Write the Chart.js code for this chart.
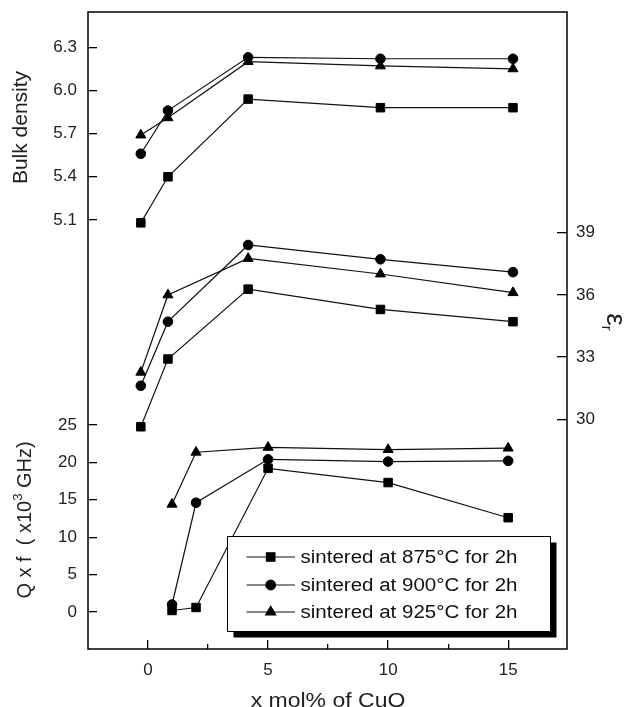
<!DOCTYPE html>
<html>
<head>
<meta charset="utf-8">
<script src="https://cdn.jsdelivr.net/npm/chart.js@4.4.0/dist/chart.umd.min.js"></script>
<style>
  html, body { margin: 0; padding: 0; background: #fff; }
</style>
</head>
<body>
<canvas id="myChart" width="624" height="707"></canvas>
<script>
// x positions (mol% CuO) as they sit in the two upper panels and in the Q x f panel
var xTop = [-0.3, 0.83, 4.17, 9.68, 15.2];
var xQf = [1, 2, 5, 10, 15];

var legendLabels = ['sintered at 875°C for 2h', 'sintered at 900°C for 2h', 'sintered at 925°C for 2h'];
var markers = ['rect', 'circle', 'triangle'];
var markerSize = [6, 4.8, 5.8];

// bulk density
var density875 = [5.08, 5.40, 5.94, 5.88, 5.88];
var density900 = [5.56, 5.86, 6.23, 6.22, 6.22];
var density925 = [5.69, 5.81, 6.20, 6.17, 6.15];

// dielectric constant
var er875 = [29.64, 32.91, 36.28, 35.30, 34.71];
var er900 = [31.62, 34.71, 38.41, 37.72, 37.10];
var er925 = [32.27, 36.00, 37.76, 37.01, 36.11];

// Q x f (x10^3 GHz)
var qf875 = [0.2, 0.6, 19.2, 17.3, 12.6];
var qf900 = [1.0, 14.6, 20.4, 20.1, 20.2];
var qf925 = [14.4, 21.35, 22.0, 21.7, 21.9];

var densityTicks = [5.1, 5.4, 5.7, 6.0, 6.3];
var erTicks = [30, 33, 36, 39];
var qfTicks = [0, 5, 10, 15, 20, 25];
var xTicks = [0, 5, 10, 15];
var xMinorTicks = [2.5, 7.5, 12.5];

var FONT = "'Liberation Sans', Arial, sans-serif";

function pts(xs, ys) {
  return xs.map(function (x, i) { return { x: x, y: ys[i] }; });
}

function series(label, xs, ys, axis, k) {
  return {
    label: label,
    data: pts(xs, ys),
    xAxisID: 'x',
    yAxisID: axis,
    borderColor: '#111',
    backgroundColor: '#000',
    borderWidth: 1.2,
    pointStyle: markers[k],
    pointRadius: markerSize[k],
    pointBorderWidth: 1,
    pointBorderColor: '#000',
    pointBackgroundColor: '#000',
    tension: 0,
    fill: false
  };
}

function setTicks(list) {
  return function (scale) {
    scale.ticks = list.map(function (v) { return { value: v }; });
  };
}

function fixSize(w, h) {
  return function (scale) {
    if (w !== null) scale.width = w;
    if (h !== null) scale.height = h;
    scale.paddingTop = 0; scale.paddingBottom = 0;
    scale.paddingLeft = 0; scale.paddingRight = 0;
  };
}

function tickGrid(len) {
  return { display: true, drawOnChartArea: false, drawTicks: true, tickLength: len, color: '#000', lineWidth: 1.3 };
}

var tickFont = { family: FONT, size: 17 };

function drawText(ctx, parts, x, y, rot, sx) {
  ctx.save();
  ctx.translate(x, y);
  ctx.rotate(rot);
  ctx.scale(sx || 1, 1);
  ctx.textBaseline = 'alphabetic';
  ctx.textAlign = 'left';
  var total = 0;
  parts.forEach(function (p) { ctx.font = p[1] + 'px ' + FONT; total += ctx.measureText(p[0]).width; });
  var cx = -total / 2;
  parts.forEach(function (p) {
    ctx.font = p[1] + 'px ' + FONT;
    ctx.fillText(p[0], cx, p[2]);
    cx += ctx.measureText(p[0]).width;
  });
  ctx.restore();
}

var paperPlugin = {
  id: 'paper',
  afterDatasetsDraw: function (chart) {
    var ctx = chart.ctx, a = chart.chartArea;
    ctx.save();
    // frame
    ctx.strokeStyle = '#000';
    ctx.lineWidth = 1.5;
    ctx.strokeRect(a.left, a.top, a.right - a.left, a.bottom - a.top);

    // legend with drop shadow
    var bx = 227.5, by = 536.5, bw = 323, bh = 95;
    ctx.fillStyle = '#000';
    ctx.fillRect(bx + 6, by + 6, bw, bh);
    ctx.fillStyle = '#fff';
    ctx.fillRect(bx, by, bw, bh);
    ctx.lineWidth = 1;
    ctx.strokeRect(bx, by, bw, bh);
    var rows = [557, 585, 612];
    legendLabels.forEach(function (lab, i) {
      var y = rows[i];
      ctx.strokeStyle = '#111';
      ctx.lineWidth = 1.2;
      ctx.beginPath();
      ctx.moveTo(246.5, y);
      ctx.lineTo(295, y);
      ctx.stroke();
      ctx.fillStyle = '#000';
      ctx.strokeStyle = '#000';
      Chart.helpers.drawPoint(ctx, { pointStyle: markers[i], rotation: 0, radius: markerSize[i], borderWidth: 1 }, 270.7, y);
      ctx.save();
      ctx.translate(300.5, y);
      ctx.scale(1.14, 1);
      ctx.font = '18px ' + FONT;
      ctx.fillStyle = '#111';
      ctx.textBaseline = 'middle';
      ctx.textAlign = 'left';
      ctx.fillText(lab, 0, 1);
      ctx.restore();
    });

    // axis titles
    ctx.fillStyle = '#222';
    drawText(ctx, [['Bulk density', 21, 0]], 27, 127.5, -Math.PI / 2);
    drawText(ctx, [['Q x f  ( x10', 20, 0], ['3', 13, -9], [' GHz)', 20, 0]], 31, 520, -Math.PI / 2);
    drawText(ctx, [['ε', 28, 0], ['r', 15, 5]], 607, 322, Math.PI / 2);
    drawText(ctx, [['x mol% of CuO', 20, 0]], 328, 707, 0, 1.15);
    ctx.restore();
  }
};

var ctx = document.getElementById('myChart');
new Chart(ctx, {
  type: 'line',
  data: {
    datasets: [
      series(legendLabels[0], xTop, density875, 'yBD', 0),
      series(legendLabels[1], xTop, density900, 'yBD', 1),
      series(legendLabels[2], xTop, density925, 'yBD', 2),
      series(legendLabels[0], xTop, er875, 'yE', 0),
      series(legendLabels[1], xTop, er900, 'yE', 1),
      series(legendLabels[2], xTop, er925, 'yE', 2),
      series(legendLabels[0], xQf, qf875, 'yQ', 0),
      series(legendLabels[1], xQf, qf900, 'yQ', 1),
      series(legendLabels[2], xQf, qf925, 'yQ', 2)
    ]
  },
  options: {
    responsive: false,
    animation: false,
    devicePixelRatio: 1,
    layout: { padding: { top: 12, left: 0, right: 0, bottom: 0 } },
    plugins: { legend: { display: false }, tooltip: { enabled: false } },
    scales: {
      x: {
        type: 'linear', position: 'bottom', weight: 1,
        min: -2.5, max: 17.45,
        afterBuildTicks: setTicks(xTicks),
        afterFit: fixSize(null, 58),
        grid: tickGrid(-9),
        border: { display: false },
        ticks: { font: tickFont, color: '#222', padding: 20, maxRotation: 0, autoSkip: false }
      },
      x2: {
        type: 'linear', position: 'bottom', weight: 0,
        min: -2.5, max: 17.45,
        afterBuildTicks: setTicks(xMinorTicks),
        afterFit: fixSize(null, 0),
        grid: tickGrid(-5),
        border: { display: false },
        ticks: { display: false }
      },
      yBD: {
        type: 'linear', position: 'left', weight: 1,
        min: 2.119, max: 6.545,
        afterBuildTicks: setTicks(densityTicks),
        afterFit: fixSize(88, null),
        grid: tickGrid(-9),
        border: { display: false },
        ticks: { font: tickFont, color: '#222', padding: 20, autoSkip: false,
          callback: function (v) { return v.toFixed(1); } }
      },
      yQ: {
        // zero-width axis sharing the left edge; mirrored so its labels are not clipped
        type: 'linear', position: 'left', weight: 0,
        min: -4.95, max: 80.2,
        afterBuildTicks: setTicks(qfTicks),
        afterFit: fixSize(0, null),
        grid: tickGrid(-9),
        border: { display: false },
        ticks: { font: tickFont, color: '#222', mirror: true, crossAlign: 'far', padding: -30, autoSkip: false }
      },
      yE: {
        type: 'linear', position: 'right',
        min: 18.92, max: 49.65,
        afterBuildTicks: setTicks(erTicks),
        afterFit: fixSize(57, null),
        grid: tickGrid(-10),
        border: { display: false },
        ticks: { font: tickFont, color: '#222', padding: 19, autoSkip: false }
      }
    }
  },
  plugins: [paperPlugin]
});
</script>
</body>
</html>
